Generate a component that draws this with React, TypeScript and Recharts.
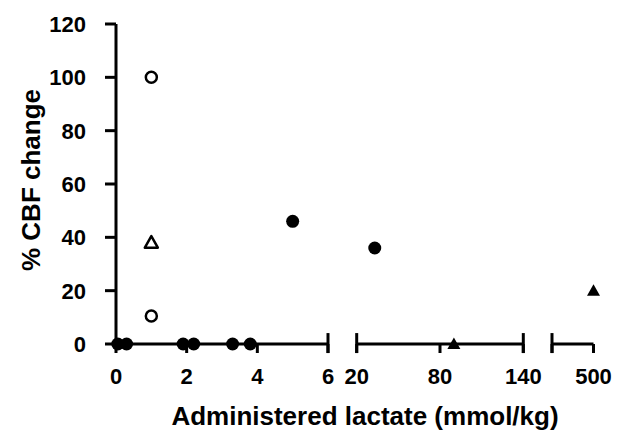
import { ScatterChart, Scatter, XAxis, YAxis, ReferenceLine } from 'recharts';

const FONT = '"Liberation Sans", Arial, Helvetica, sans-serif';

// values (x = administered lactate mmol/kg, y = % CBF change)
const filledCircles = [
  { x: 0.05, y: 0 },
  { x: 0.3, y: 0 },
  { x: 1.9, y: 0 },
  { x: 2.2, y: 0 },
  { x: 3.3, y: 0 },
  { x: 3.8, y: 0 },
  { x: 5, y: 46 },
  { x: 33, y: 36 },
];
const openCircles = [
  { x: 1, y: 100 },
  { x: 1, y: 10.5 },
];
const openTriangles = [{ x: 1, y: 38 }];
const filledTriangles = [
  { x: 90, y: 0 },
  { x: 500, y: 20 },
];

const yTicks = [0, 20, 40, 60, 80, 100, 120];

// broken x axis: three pieces (the svgs overlap a little so labels are not clipped)
const segments = [
  { key: 'a', domain: [0, 6], ticks: [0, 2, 4, 6], labels: [0, 2, 4, 6], caps: [6], left: 0, width: 340, margin: { top: 24, right: 12, bottom: 0, left: 0 } },
  { key: 'b', domain: [20, 140], ticks: [20, 80, 140], labels: [20, 80, 140], caps: [20, 140], left: 335, width: 222, margin: { top: 24, right: 33.7, bottom: 0, left: 21.7 } },
  { key: 'c', domain: [400, 500], ticks: [400, 500], labels: [500], caps: [400], left: 540, width: 85, margin: { top: 24, right: 31.5, bottom: 0, left: 12 } },
];

const lineStyle = { stroke: '#000', strokeWidth: 3 };
const titleStyle = {
  position: 'absolute' as const,
  whiteSpace: 'nowrap' as const,
  fontFamily: FONT,
  fontWeight: 700,
  fontSize: 26,
  lineHeight: 1,
  color: '#000',
};

const TickText = (p: any, dy: string, show: boolean) =>
  show ? (
    <text
      x={p.x}
      y={p.y}
      dy={dy}
      textAnchor={p.textAnchor}
      fill="#000"
      fontSize={22}
      fontWeight={700}
      fontFamily={FONT}
    >
      {p.payload.value}
    </text>
  ) : (
    <g />
  );

const Dot = (p: any) => <circle cx={p.cx} cy={p.cy} r={6.5} fill="#000" />;
const Ring = (p: any) => (
  <circle cx={p.cx} cy={p.cy} r={5.5} fill="#fff" stroke="#000" strokeWidth={2.5} />
);
const triPath = (cx: number, cy: number) =>
  `M${cx},${cy - 6.5}L${cx + 6.5},${cy + 5}L${cx - 6.5},${cy + 5}Z`;
const OpenTri = (p: any) => (
  <path d={triPath(p.cx, p.cy)} fill="#fff" stroke="#000" strokeWidth={2.5} strokeLinejoin="round" />
);
const FilledTri = (p: any) => <path d={triPath(p.cx, p.cy)} fill="#000" />;

const inRange = (pts: { x: number; y: number }[], d: number[]) =>
  pts.filter((p) => p.x >= d[0] && p.x <= d[1]);

export default function App() {
  return (
    <div style={{ position: 'absolute', left: 0, top: 0, width: 625, height: 430, background: '#fff' }}>
      {segments.map((s, i) => (
        <div key={s.key} style={{ position: 'absolute', left: s.left, top: 0 }}>
          <ScatterChart width={s.width} height={430} margin={s.margin} style={{ overflow: 'visible' }}>
            <XAxis
              type="number"
              dataKey="x"
              domain={s.domain}
              ticks={s.ticks}
              interval={0}
              height={86}
              tickSize={9}
              tickMargin={15}
              axisLine={lineStyle}
              tickLine={lineStyle}
              tick={(p: any) => TickText(p, '0.71em', s.labels.includes(p.payload.value))}
            />
            <YAxis
              type="number"
              dataKey="y"
              domain={[0, 120]}
              ticks={yTicks}
              interval={0}
              hide={i !== 0}
              width={116}
              tickSize={11}
              tickMargin={19}
              axisLine={lineStyle}
              tickLine={lineStyle}
              tick={(p: any) => TickText(p, '0.36em', true)}
            />
            {s.caps.map((c) => (
              <ReferenceLine
                key={c}
                segment={[
                  { x: c, y: -3.4 },
                  { x: c, y: 4.1 },
                ]}
                stroke="#000"
                strokeWidth={3}
                ifOverflow="visible"
              />
            ))}
            <Scatter data={inRange(filledCircles, s.domain)} shape={Dot} isAnimationActive={false} />
            <Scatter data={inRange(openCircles, s.domain)} shape={Ring} isAnimationActive={false} />
            <Scatter data={inRange(openTriangles, s.domain)} shape={OpenTri} isAnimationActive={false} />
            <Scatter data={inRange(filledTriangles, s.domain)} shape={FilledTri} isAnimationActive={false} />
          </ScatterChart>
        </div>
      ))}
      <div style={{ ...titleStyle, left: 365, top: 416, transform: 'translate(-50%, -50%)' }}>
        Administered lactate (mmol/kg)
      </div>
      <div style={{ ...titleStyle, left: 31, top: 180, transform: 'translate(-50%, -50%) rotate(-90deg)' }}>
        % CBF change
      </div>
    </div>
  );
}
